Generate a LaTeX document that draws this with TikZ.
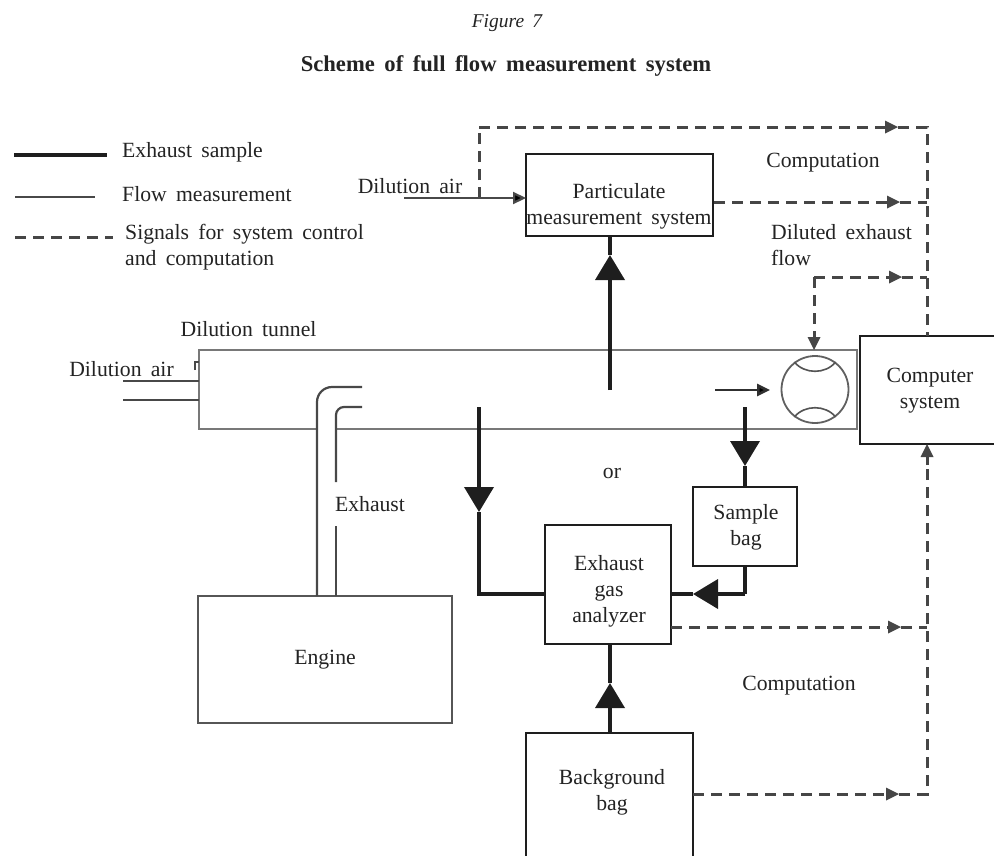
\documentclass[tikz,border=0pt]{standalone}
\usepackage{fontspec}
\setmainfont[WordSpace=1.7]{Liberation Serif}
\usetikzlibrary{arrows.meta}
\definecolor{line_dark}{RGB}{30,30,30}
\definecolor{line_dash}{RGB}{70,70,70}
\definecolor{line_grey}{RGB}{120,120,120}
\definecolor{text_dark}{RGB}{35,35,35}
\newcommand\lbl{\fontsize{21.7}{26}\selectfont}

\begin{document}
\begin{tikzpicture}[x=1pt,y=-1pt,>=Stealth,text=text_dark]
    \tikzstyle{label}=[font=\lbl,inner sep=0pt,align=left]
    \tikzstyle{labelc}=[style=label,align=center]
    \tikzstyle{box}=[draw=line_dark,line width=1.8pt,fill=white,font=\lbl,align=center,inner sep=0pt,outer sep=0pt]
    \tikzstyle{sample}=[draw=line_dark,line width=3.8pt]
    \tikzstyle{samplearrow}=[style=sample,-{Triangle[width=29pt,length=25pt]}]
    \tikzstyle{flow}=[draw=line_grey!60!black,line width=2.2pt]
    \tikzstyle{signal}=[draw=line_dash,line width=3pt,dash pattern=on 11pt off 7pt]
    \tikzstyle{signalarrow}=[style=signal,-{Triangle[width=13pt,length=13pt,line width=0pt,sep=0pt]}]

    \useasboundingbox (0,0) rectangle (994,855);
    \clip (0,0) rectangle (994,855);

    \node[font=\fontsize{19.5}{22}\selectfont\itshape] (fig) at (507,23) {Figure 7};
    \node[font=\fontsize{22.6}{26}\selectfont\bfseries] (title) at (506,66) {Scheme of full flow measurement system};

    \coordinate (legA) at (14,155);  \coordinate (legB) at (107,155);
    \coordinate (legC) at (15,197);  \coordinate (legD) at (95,197);
    \coordinate (legE) at (15,237);  \coordinate (legF) at (113,237);
    \node[label,anchor=west] (legsample) at (122,152) {Exhaust sample};
    \node[label,anchor=west] (legflow)   at (122,194) {Flow measurement};
    \node[label,anchor=north west] (legsignal) at (125,224) {Signals for system control\\and computation};
    \path[sample] (legA) edge (legB);
    \path[flow] (legC) edge (legD);
    \path[signal] (legE) edge (legF);

    \node[box,minimum width=187pt,minimum height=82pt] (partic) at (619.5,195) {};
    \node[box,minimum width=140pt,minimum height=108pt] (computer) at (930,390) {};
    \node[box,minimum width=104pt,minimum height=79pt] (samplebag) at (745,526.5) {};
    \node[box,minimum width=126pt,minimum height=119pt] (analyzer) at (608,584.5) {};
    \node[box,minimum width=167pt,minimum height=127pt] (background) at (609.5,796.5) {};
    \node[box,draw=line_dark!75,line width=2pt,minimum width=254pt,minimum height=127pt] (engine) at (325,659.5) {Engine};
    \node[box,draw=line_grey,line width=2.2pt,minimum width=658pt,minimum height=79pt] (tunnel) at (528,389.5) {};
    \node[draw=line_grey!80!black,line width=1.8pt,circle,minimum size=67pt,inner sep=0pt] (meter) at (815,389.5) {};

    \node[labelc] (partictext)  at (619,206) {Particulate\\measurement system};
    \node[labelc] (computertext) at (930,391) {Computer\\system};
    \node[labelc] (sampletext) at (746,527) {Sample\\bag};
    \node[labelc] (analyzertext) at (609,591) {Exhaust\\gas\\analyzer};
    \node[labelc] (backgroundtext) at (612,792) {Background\\bag};

    \node[label] (dilair)  at (410,186) {Dilution air};
    \node[label] (dilairb) at (121.5,369) {Dilution air};
    \node[label] (diltun)  at (248.5,329) {Dilution tunnel};
    \node[label] (comptop) at (823,163) {Computation};
    \node[label] (compbot) at (799,686) {Computation};
    \node[label,anchor=north west] (diluted) at (771,224) {Diluted exhaust\\flow};
    \node[label] (exhaust) at (370,504) {Exhaust};
    \node[label] (orword)  at (612,473) {or};

    \coordinate (airin) at (404,198);
    \coordinate (split) at (479,198);
    \coordinate (topL)  at (479,127);
    \coordinate (topA)  at (898,127);
    \coordinate (topR)  at (927,127);
    \coordinate (midS)  at (714,202);
    \coordinate (midA)  at (900,202);
    \coordinate (midR)  at (927,202);
    \coordinate (dilR)  at (927,277);
    \coordinate (dilA)  at (902,277);
    \coordinate (dilL)  at (814,277);
    \coordinate (anaS)  at (671,627);
    \coordinate (anaA)  at (901,627);
    \coordinate (anaR)  at (927,627);
    \coordinate (bagS)  at (693,794);
    \coordinate (bagA)  at (899,794);
    \coordinate (bagR)  at (927,794);
    \coordinate (cmpin) at (927,465);

    \path[signal] (split) edge (topL);
    \path[signal] (topL) edge[signalarrow] (topA);
    \draw[signal] (topA) -- (topR) -- (computer.north -| topR);
    \path[signal] (midS) edge[signalarrow] (midA);
    \path[signal] (midA) edge (midR);
    \path[signal] (dilL) edge[signalarrow] (dilA);
    \path[signal] (dilA) edge (dilR);
    \path[signal] (dilL) edge[signalarrow] (tunnel.north -| dilL);
    \path[signal] (anaS) edge[signalarrow] (anaA);
    \path[signal] (anaA) edge (anaR);
    \path[signal] (bagS) edge[signalarrow] (bagA);
    \draw[signal] (bagA) -- (bagR) -- (cmpin);
    \path[signal] (cmpin) edge[signalarrow] (computer.south -| cmpin);

    \path[flow] (airin) edge[-{Triangle[width=12pt,length=13pt]}] (partic.west |- airin);

    \coordinate (inA) at (123,381);
    \coordinate (inB) at (123,400);
    \coordinate (stubA) at (195,370);
    \coordinate (stubB) at (195,362);
    \path[flow] (inA) edge (inA -| tunnel.west);
    \path[flow] (inB) edge (inB -| tunnel.west);
    \draw[flow,line width=1.2pt] (stubA) -- (stubB) -- (stubB -| tunnel.west);

    \coordinate (pipeA) at (317,429);
    \coordinate (pipeB) at (336,429);
    \coordinate (pipeC) at (362,387);
    \coordinate (pipeD) at (362,407);
    \coordinate (gapA) at (336,526);
    \coordinate (gapB) at (336,482);
    \draw[white,line width=3pt] (pipeA) -- (pipeB);
    \draw[flow,rounded corners=15pt] (engine.north -| pipeA) -- (pipeA |- pipeC) -- (pipeC);
    \draw[flow] (engine.north -| pipeB) -- (gapA);
    \draw[flow,rounded corners=8pt] (gapB) -- (pipeB |- pipeD) -- (pipeD);

    \draw[line_grey!70!black,line width=1.6pt] (meter.127) to[bend right=50] (meter.53);
    \draw[line_grey!70!black,line width=1.6pt] (meter.233) to[bend left=50] (meter.307);

    \coordinate (flowS) at (715,390);
    \coordinate (flowE) at (770,390);
    \path[draw=line_grey!40!black,line width=2.6pt] (flowS) edge[-{Triangle[width=12pt,length=13pt]}] (flowE);

    \coordinate (upS) at (610,390);
    \coordinate (upA) at (610,255);
    \path[sample] (upS) edge[samplearrow] (upA);
    \path[sample] (upA) edge (partic.south -| upA);

    \coordinate (leftS) at (479,407);
    \coordinate (leftA) at (479,512);
    \coordinate (leftB) at (479,594);
    \path[sample] (leftS) edge[samplearrow] (leftA);
    \draw[sample] (leftA) -- (leftB) -- (analyzer.west |- leftB);

    \coordinate (rightS) at (745,407);
    \coordinate (rightA) at (745,466);
    \path[sample] (rightS) edge[samplearrow] (rightA);
    \path[sample] (rightA) edge (samplebag.north);

    \coordinate (retB) at (745,594);
    \coordinate (retA) at (693,594);
    \draw[sample] (samplebag.south) -- (retB);
    \path[sample] (retB) edge[samplearrow] (retA);
    \path[sample] (retA) edge (analyzer.east |- retA);

    \coordinate (bgS) at (610,733);
    \coordinate (bgA) at (610,683);
    \path[sample] (bgS) edge[samplearrow] (bgA);
    \path[sample] (bgA) edge (analyzer.south -| bgA);
\end{tikzpicture}
\end{document}
